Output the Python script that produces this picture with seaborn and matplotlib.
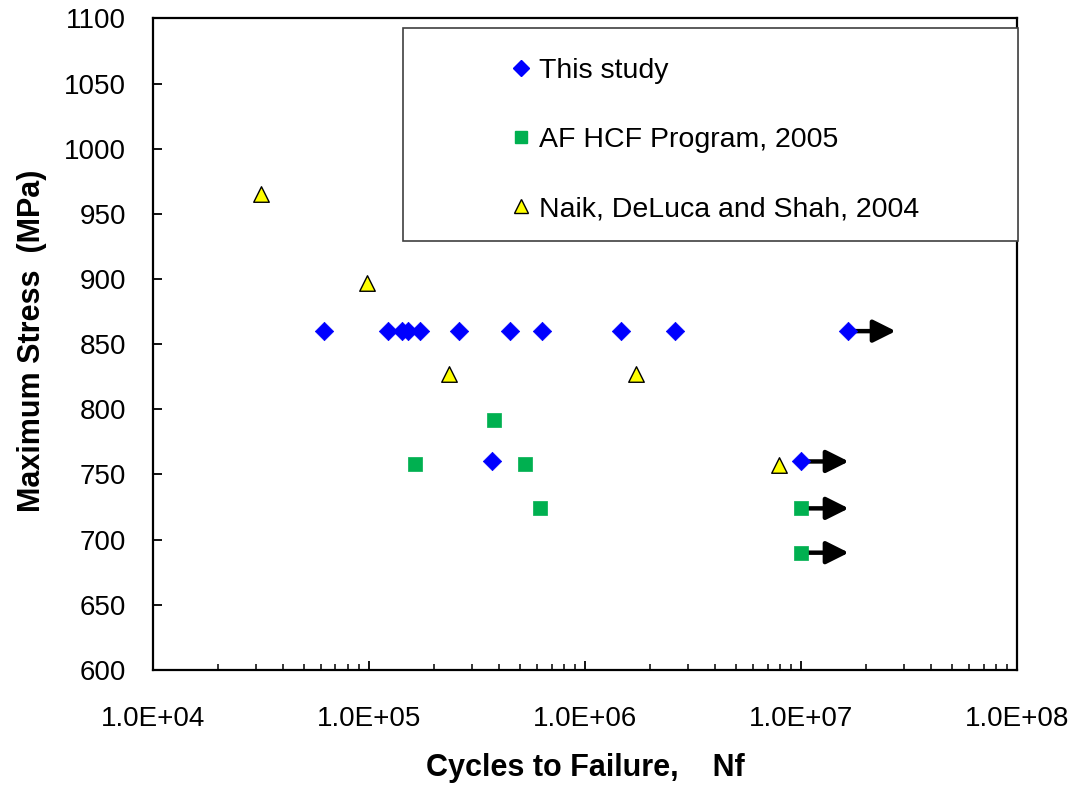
import numpy as np
import pandas as pd
import matplotlib
matplotlib.use("Agg")
import matplotlib.pyplot as plt
import matplotlib.ticker as mticker
from matplotlib.lines import Line2D
from matplotlib.patches import Rectangle
import seaborn as sns

# --- data ---
study_cycles = [6.2e4, 1.22e5, 1.43e5, 1.51e5, 1.72e5, 2.6e5, 4.5e5, 6.3e5,
                1.47e6, 2.6e6, 1.65e7, 3.7e5, 1.0e7]
study_stress = [860, 860, 860, 860, 860, 860, 860, 860,
                860, 860, 860, 760, 760]
study_runout = [False] * 10 + [True, False, True]

afhcf_cycles = [1.63e5, 3.8e5, 5.3e5, 6.2e5, 1.0e7, 1.0e7]
afhcf_stress = [758, 792, 758, 724, 724, 690]
afhcf_runout = [False, False, False, False, True, True]

naik_cycles = [3.16e4, 9.8e4, 2.36e5, 1.72e6, 7.9e6]
naik_stress = [965, 897, 827, 827, 757]

labels = ["This study", "AF HCF Program, 2005", "Naik, DeLuca and Shah, 2004"]

study = pd.DataFrame({"N": study_cycles, "S": study_stress, "runout": study_runout})
afhcf = pd.DataFrame({"N": afhcf_cycles, "S": afhcf_stress, "runout": afhcf_runout})
naik = pd.DataFrame({"N": naik_cycles, "S": naik_stress})

sns.set_style("white")
plt.rcParams["font.family"] = ["Liberation Sans", "DejaVu Sans"]
plt.rcParams["text.color"] = "black"
plt.rcParams["axes.labelcolor"] = "black"

fig = plt.figure(figsize=(10.77, 7.87), dpi=100)
ax = fig.add_axes([0.1418, 0.1487, 0.8028, 0.8280])

BLUE = "#0000FF"
GREEN = "#00B050"
YELLOW = "#FFFF00"

# runout arrows (drawn under the markers)
arrow_decades = 0.22
runouts = pd.concat([study[study.runout], afhcf[afhcf.runout]])
for n, s in zip(runouts["N"], runouts["S"]):
    ax.annotate("", xy=(n * 10 ** arrow_decades, s), xytext=(n, s),
                arrowprops=dict(arrowstyle="-|>", lw=3.2, color="black",
                                mutation_scale=34, shrinkA=0, shrinkB=0),
                zorder=1)

sns.scatterplot(data=study, x="N", y="S", marker="D", s=88, color=BLUE,
                edgecolor=BLUE, linewidth=0.5, ax=ax, zorder=3, legend=False)
sns.scatterplot(data=afhcf, x="N", y="S", marker="s", s=105, color=GREEN,
                edgecolor=GREEN, linewidth=0.5, ax=ax, zorder=3, legend=False)
sns.scatterplot(data=naik, x="N", y="S", marker="^", s=125, color=YELLOW,
                edgecolor="black", linewidth=1.0, ax=ax, zorder=3, legend=False)

ax.set_xscale("log")
ax.set_xlim(1e4, 1e8)
ax.set_ylim(600, 1100)
ax.set_yticks(np.arange(600, 1101, 50))
ax.xaxis.set_major_locator(mticker.LogLocator(base=10, numticks=10))
ax.xaxis.set_minor_locator(mticker.LogLocator(base=10, subs=np.arange(2, 10), numticks=20))
ax.xaxis.set_major_formatter(mticker.FuncFormatter(lambda v, p: "%.1E" % v))
ax.xaxis.set_minor_formatter(mticker.NullFormatter())

ax.tick_params(axis="both", which="major", direction="in", length=6.5, width=1.3,
               labelsize=20, colors="black", bottom=True, left=True)
ax.tick_params(axis="x", which="major", pad=26)
ax.tick_params(axis="y", which="major", pad=19)
ax.tick_params(axis="x", which="minor", direction="in", length=4, width=1.3, bottom=True)
ax.tick_params(top=False, right=False, which="both")
for sp in ax.spines.values():
    sp.set_visible(True)
    sp.set_color("black")
    sp.set_linewidth(1.6)

ax.set_xlabel("Cycles to Failure,    Nf", fontsize=22, fontweight="bold")
ax.set_ylabel("Maximum Stress  (MPa)", fontsize=22, fontweight="bold")
ax.xaxis.set_label_coords(0.5, -0.128)
ax.yaxis.set_label_coords(-0.122, 0.505)

# legend box
ax.add_patch(Rectangle((0.2895, 0.658), 0.711, 0.327, transform=ax.transAxes,
                       facecolor="white", edgecolor="#404040", lw=1.2,
                       clip_on=False, zorder=4))
handles = [
    Line2D([], [], ls="none", marker="D", markersize=8, color=BLUE, mec=BLUE),
    Line2D([], [], ls="none", marker="s", markersize=8.5, color=GREEN, mec=GREEN),
    Line2D([], [], ls="none", marker="^", markersize=10, color=YELLOW, mec="black", mew=1),
]
leg = ax.legend(handles, labels, loc="upper left", bbox_to_anchor=(0.415, 0.9395),
                frameon=False, fontsize=20.5, handlelength=0.65, handletextpad=0.3,
                labelspacing=1.52, borderpad=0, borderaxespad=0)
leg.set_zorder(5)

fig.savefig("out.png", dpi=100)
